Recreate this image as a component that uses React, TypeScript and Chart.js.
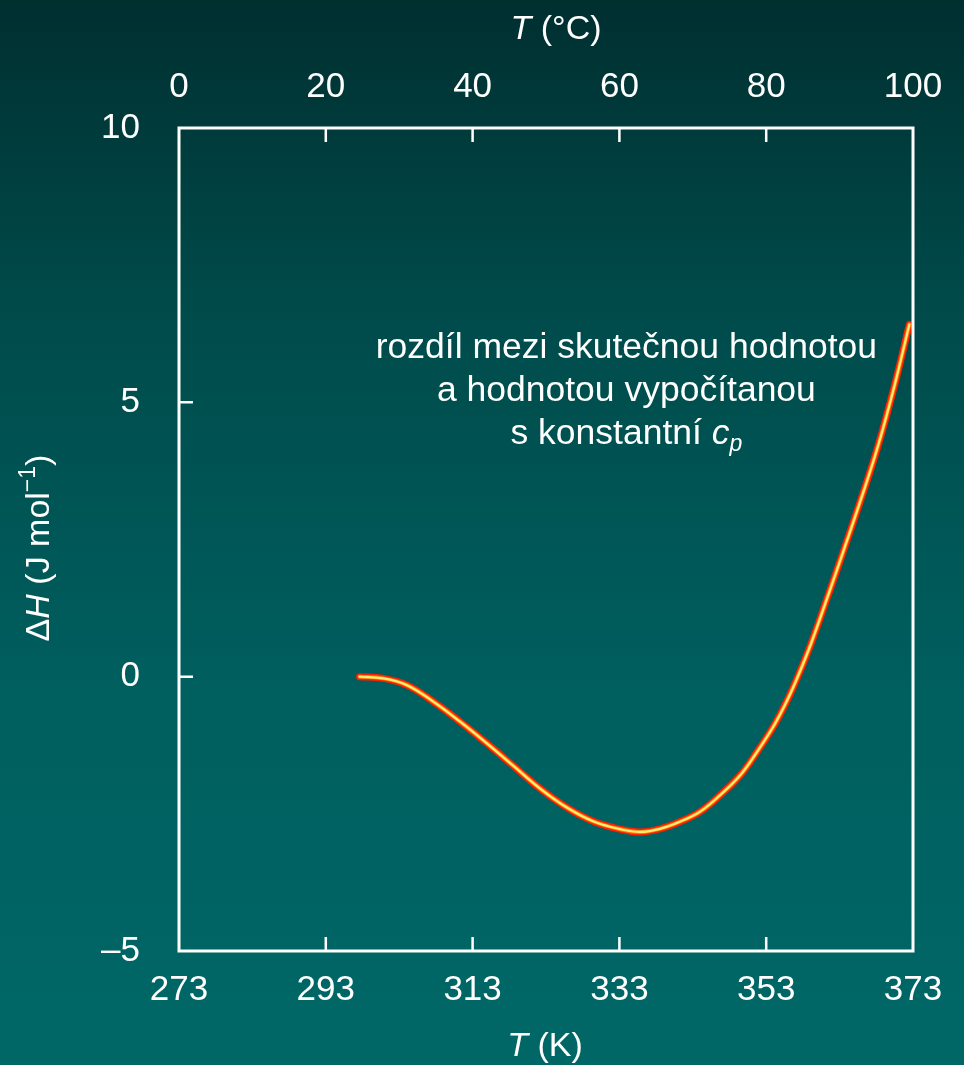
import React, { useEffect, useRef } from "react";
import { Chart, registerables } from "chart.js";

Chart.register(...registerables);

// Temperature in kelvin
const T_K = [297.6, 300.8, 304.0, 307.6, 311.3, 314.9, 318.6, 322.2, 325.9, 329.5, 333.1, 335.9, 338.6, 341.3, 344.0, 346.8, 349.5, 351.8, 354.1, 355.9, 357.3, 359.1, 361.35, 363.6, 365.9, 368.2, 370.45, 372.5];
// ΔH (J mol-1)
const DELTA_H = [0.0, -0.03, -0.15, -0.45, -0.82, -1.21, -1.63, -2.04, -2.39, -2.64, -2.78, -2.83, -2.77, -2.64, -2.46, -2.15, -1.79, -1.36, -0.88, -0.42, 0.0, 0.6, 1.45, 2.32, 3.23, 4.19, 5.29, 6.42];

const K_TICKS = [273, 293, 313, 333, 353, 373];
const C_TICKS = [0, 20, 40, 60, 80, 100];
const Y_TICKS = [-5, 0, 5, 10];

const ANNOTATION_LINES = ["rozdíl mezi skutečnou hodnotou", "a hodnotou vypočítanou", "s konstantní "];

const FONT = "'Liberation Sans', Arial, sans-serif";

type Part = { text: string; italic?: boolean; size?: number; dy?: number };

function drawRich(ctx: CanvasRenderingContext2D, parts: Part[], x: number, y: number, baseSize: number) {
  const widths = parts.map((p) => {
    ctx.font = `${p.italic ? "italic " : ""}${p.size || baseSize}px ${FONT}`;
    return ctx.measureText(p.text).width;
  });
  const total = widths.reduce((a, b) => a + b, 0);
  let cx = x - total / 2;
  parts.forEach((p, i) => {
    ctx.font = `${p.italic ? "italic " : ""}${p.size || baseSize}px ${FONT}`;
    ctx.textAlign = "left";
    ctx.textBaseline = "middle";
    ctx.fillText(p.text, cx, y + (p.dy || 0));
    cx += widths[i];
  });
}

const bgPlugin = {
  id: "bg",
  beforeDraw(chart: any) {
    const { ctx, width, height } = chart;
    const g = ctx.createLinearGradient(0, 0, 0, height);
    g.addColorStop(0, "#002f30");
    g.addColorStop(0.28, "#004a4a");
    g.addColorStop(0.65, "#005f5f");
    g.addColorStop(1, "#006767");
    ctx.save();
    ctx.fillStyle = g;
    ctx.fillRect(0, 0, width, height);
    ctx.restore();
  },
};

const framePlugin = {
  id: "frame",
  afterDatasetsDraw(chart: any) {
    const { ctx, chartArea: a, scales } = chart;
    ctx.save();
    ctx.strokeStyle = "#ffffff";
    ctx.lineWidth = 3;
    ctx.strokeRect(a.left, a.top, a.right - a.left, a.bottom - a.top);
    ctx.lineWidth = 2.5;
    const len = 14;
    ctx.beginPath();
    K_TICKS.slice(1, -1).forEach((v) => {
      const px = scales.x.getPixelForValue(v);
      ctx.moveTo(px, a.bottom);
      ctx.lineTo(px, a.bottom - len);
    });
    C_TICKS.slice(1, -1).forEach((v) => {
      const px = scales.x2.getPixelForValue(v);
      ctx.moveTo(px, a.top);
      ctx.lineTo(px, a.top + len);
    });
    Y_TICKS.slice(1, -1).forEach((v) => {
      const py = scales.y.getPixelForValue(v);
      ctx.moveTo(a.left, py);
      ctx.lineTo(a.left + len, py);
    });
    ctx.stroke();

    // axis titles and annotation
    ctx.fillStyle = "#ffffff";
    const midX = (a.left + a.right) / 2;
    drawRich(ctx, [{ text: "T", italic: true }, { text: " (°C)" }], midX + 10, 30, 34);
    drawRich(ctx, [{ text: "T", italic: true }, { text: " (K)" }], midX - 1, 1047, 34);

    ctx.save();
    ctx.translate(40, 548);
    ctx.rotate(-Math.PI / 2);
    drawRich(
      ctx,
      [
        { text: "Δ" },
        { text: "H", italic: true },
        { text: " (J mol" },
        { text: "−1", size: 23, dy: -11 },
        { text: ")" },
      ],
      0,
      0,
      34
    );
    ctx.restore();

    const annX = a.left + (a.right - a.left) * 0.6095;
    drawRich(ctx, [{ text: ANNOTATION_LINES[0] }], annX, 348, 35.5);
    drawRich(ctx, [{ text: ANNOTATION_LINES[1] }], annX, 391, 35.5);
    drawRich(
      ctx,
      [{ text: ANNOTATION_LINES[2] }, { text: "c", italic: true }, { text: "p", italic: true, size: 23, dy: 11 }],
      annX,
      434,
      35.5
    );
    ctx.restore();
  },
};

export default function App() {
  const ref = useRef<HTMLCanvasElement | null>(null);

  useEffect(() => {
    document.body.style.margin = "0";
    const canvas = ref.current;
    if (!canvas) return;
    const points = T_K.map((x, i) => ({ x, y: DELTA_H[i] }));
    const tickFont = { family: FONT, size: 35 };
    const lineBase = {
      data: points,
      pointRadius: 0,
      tension: 0.4,
      borderCapStyle: "round",
      borderJoinStyle: "round",
      xAxisID: "x",
      yAxisID: "y",
      clip: false,
    };
    const chart = new Chart(canvas, {
      type: "line",
      data: {
        datasets: [
          { ...lineBase, borderColor: "#ffef70", borderWidth: 2.2, order: 0 },
          { ...lineBase, borderColor: "#ff7a10", borderWidth: 4, order: 1 },
          { ...lineBase, borderColor: "#ff1e00", borderWidth: 7, order: 2 },
        ],
      } as any,
      options: {
        responsive: false,
        animation: false,
        devicePixelRatio: 1,
        layout: { padding: { left: 0, right: 51, top: 0, bottom: 0 } },
        plugins: { legend: { display: false }, tooltip: { enabled: false } },
        scales: {
          x: {
            type: "linear",
            position: "bottom",
            min: 273,
            max: 373,
            afterBuildTicks: (s: any) => {
              s.ticks = K_TICKS.map((v) => ({ value: v }));
            },
            afterFit: (s: any) => {
              s.height = 114;
            },
            grid: { display: false, drawTicks: false },
            border: { display: false },
            ticks: { color: "#ffffff", font: tickFont, padding: 18, maxRotation: 0, autoSkip: false },
          },
          x2: {
            type: "linear",
            position: "top",
            min: 0,
            max: 100,
            afterBuildTicks: (s: any) => {
              s.ticks = C_TICKS.map((v) => ({ value: v }));
            },
            afterFit: (s: any) => {
              s.height = 128;
            },
            grid: { display: false, drawTicks: false },
            border: { display: false },
            ticks: { color: "#ffffff", font: tickFont, padding: 20, maxRotation: 0, autoSkip: false },
          },
          y: {
            type: "linear",
            position: "left",
            min: -5,
            max: 10,
            afterBuildTicks: (s: any) => {
              s.ticks = Y_TICKS.map((v) => ({ value: v }));
            },
            afterFit: (s: any) => {
              s.width = 179;
            },
            grid: { display: false, drawTicks: false },
            border: { display: false },
            ticks: {
              color: "#ffffff",
              font: tickFont,
              padding: 39,
              callback: (v: any) => (v < 0 ? "–" + Math.abs(v) : String(v)),
            },
          },
        },
      } as any,
      plugins: [bgPlugin, framePlugin],
    });
    return () => chart.destroy();
  }, []);

  return <canvas ref={ref} width={964} height={1065} style={{ display: "block" }} />;
}
